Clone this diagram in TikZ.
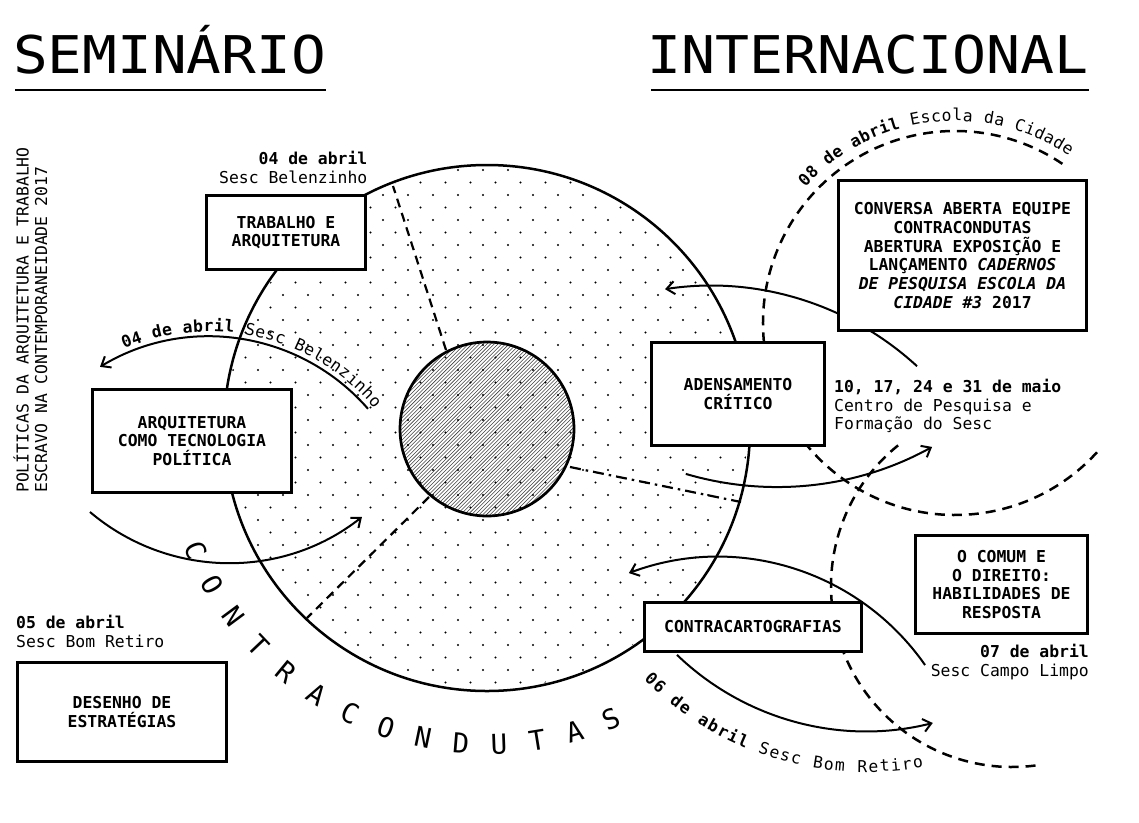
\documentclass[tikz,border=0pt]{standalone}
\usepackage{fontspec}
\usepackage{graphicx}
\newfontfamily\dvm{DejaVu Sans Mono}
\usetikzlibrary{arrows.meta}
\begin{document}
\begin{tikzpicture}[x=1pt,y=1pt,
  box/.style={draw,line width=2.7pt,fill=white,inner sep=0pt,align=center,
    font=\dvm\bfseries\fontsize{16.4}{18.8}\selectfont},
  lbl/.style={inner sep=0pt,font=\dvm\fontsize{16.4}{19}\selectfont},
  lblb/.style={inner sep=0pt,font=\dvm\bfseries\fontsize{16.4}{19}\selectfont},
  arcch/.style={inner sep=0pt,anchor=base,font=\dvm\fontsize{16.4}{19}\selectfont},
  arcchb/.style={inner sep=0pt,anchor=base,font=\dvm\bfseries\fontsize{16.4}{19}\selectfont},
  bigch/.style={inner sep=0pt,anchor=base,font=\dvm\fontsize{27.5}{30}\selectfont},
  titlefont/.style={inner sep=0pt,anchor=base west,font=\dvm\fontsize{52}{52}\selectfont},
  arr/.style={line width=2pt,-{Straight Barb[length=8pt,width=13pt]}},
  dashc/.style={line width=2.5pt,dash pattern=on 10pt off 7pt},
  dashi/.style={line width=2.2pt,dash pattern=on 9pt off 6pt},
  dashdot/.style={line width=2.2pt,dash pattern=on 11pt off 5pt on 2.5pt off 5pt},
  uline/.style={line width=2.8pt}
]
\fill[white] (0,0) rectangle (1139,-822);
\useasboundingbox (0,0) rectangle (1139,-822);

% ---------- hatched inner circle ----------
\begin{scope}
  \clip (487,-429) circle[radius=87];
  \foreach \k in {-36,...,36}
    \draw[line width=0.55pt,black!75] ({487+3.7*\k-110},-539) -- ++(220,220);
\end{scope}

% ---------- dotted big circle ----------
\begin{scope}
  \clip (487,-428) circle[radius=261];
  \foreach \k in {0,...,43}
    \foreach \m in {0,...,23}
      \fill ({195.5+12.5*mod(\k,2)+25*\m},{-157.5-12.5*\k}) circle[radius=1.1];
\end{scope}

\draw[line width=2.7pt] (487,-429) circle[radius=87];
\draw[line width=2.5pt] (487,-428) circle[radius=263];

% ---------- dashed radial lines ----------
\coordinate (r1a) at (446,-350); \coordinate (r1b) at (393,-186);
\coordinate (r2a) at (429,-497); \coordinate (r2b) at (307,-618);
\coordinate (r3a) at (570,-467); \coordinate (r3b) at (741,-502);
\draw[dashi] (r1a) -- (r1b);
\draw[dashi] (r2a) -- (r2b);
\draw[dashdot] (r3a) -- (r3b);

% ---------- dashed circles ----------
\draw[dashc] (955,-323) ++(56:192) arc[start angle=56,end angle=318,radius=192];
\draw[dashc] (1012,-586) ++(129:181) arc[start angle=129,end angle=279,radius=181];

% ---------- arrows ----------
\draw[arr] (209,-547.5) ++(41.1:211) arc[start angle=41.1,end angle=121.1,radius=211];
\draw[arr] (229,-348) ++(229.7:215) arc[start angle=229.7,end angle=308.2,radius=215];
\draw[arr] (710.6,-590.7) ++(47.4:305) arc[start angle=47.4,end angle=98.6,radius=305];
\draw[arr] (776.6,-165.3) ++(253.6:321.7) arc[start angle=253.6,end angle=298.9,radius=321.7];
\draw[arr] (717.8,-809.6) ++(34.9:252.7) arc[start angle=34.9,end angle=110.6,radius=252.7];
\draw[arr] (866.3,-458.2) ++(226.1:273) arc[start angle=226.1,end angle=284.1,radius=273];

% ---------- texts along arcs ----------
% 04 de abril Sesc Belenzinho
\foreach \c [count=\i from 0] in {0,4,{},d,e,{},a,b,r,i,l}
  \node[arcchb,rotate={111.8-2.71*\i-90}] at ([shift={(209,-547.5)}]{111.8-2.71*\i}:216) {\c};
\foreach \c [count=\i from 12] in {S,e,s,c,{},B,e,l,e,n,z,i,n,h,o}
  \node[arcch,rotate={111.8-2.71*\i-90}] at ([shift={(209,-547.5)}]{111.8-2.71*\i}:216) {\c};
% 08 de abril Escola da Cidade
\foreach \c [count=\i from 0] in {0,8,{},d,e,{},a,b,r,i,l}
  \node[arcchb,rotate={136.4-2.94*\i-90}] at ([shift={(955,-323)}]{136.4-2.94*\i}:202) {\c};
\foreach \c [count=\i from 12] in {E,s,c,o,l,a,{},d,a,{},C,i,d,a,d,e}
  \node[arcch,rotate={136.4-2.94*\i-90}] at ([shift={(955,-323)}]{136.4-2.94*\i}:202) {\c};
% 06 de abril Sesc Bom Retiro
\foreach \c [count=\i from 0] in {0,6,{},d,e,{},a,b,r,i,l}
  \node[arcchb,rotate={225.8+2.07*\i+90}] at ([shift={(866.3,-458.2)}]{225.8+2.07*\i}:314) {\c};
\foreach \c [count=\i from 12] in {S,e,s,c,{},B,o,m,{},R,e,t,i,r,o}
  \node[arcch,rotate={225.8+2.07*\i+90}] at ([shift={(866.3,-458.2)}]{225.8+2.07*\i}:314) {\c};
% CONTRACONDUTAS
\foreach \c [count=\i from 0] in {C,O,N,T,R,A,C,O,N,D,U,T,A,S}
  \node[bigch,rotate={202.7+6.95*\i+90}] at ([shift={(487,-428)}]{202.7+6.95*\i}:326) {\c};

% ---------- boxes ----------
\node[box,minimum width=159pt,minimum height=74pt] (b1) at (286,-232.5) {TRABALHO E\\ARQUITETURA};
\node[box,minimum width=199pt,minimum height=103pt] (b2) at (192,-441) {ARQUITETURA\\COMO TECNOLOGIA\\POLÍTICA};
\node[box,minimum width=209pt,minimum height=99pt] (b3) at (122,-712) {DESENHO DE\\ESTRATÉGIAS};
\node[box,minimum width=173pt,minimum height=103pt] (b4) at (738,-394) {ADENSAMENTO\\CRÍTICO};
\node[box,minimum width=248pt,minimum height=150pt] (b5) at (962.5,-255.5)
  {CONVERSA ABERTA EQUIPE\\CONTRACONDUTAS\\ABERTURA EXPOSIÇÃO E\\LANÇAMENTO \textit{CADERNOS}\\\textit{DE PESQUISA ESCOLA DA}\\\textit{CIDADE \#3} 2017};
\node[box,minimum width=172pt,minimum height=98pt] (b6) at (1001.5,-584.5) {O COMUM E\\O DIREITO:\\HABILIDADES DE\\RESPOSTA};
\node[box,minimum width=217pt,minimum height=49pt] (b7) at (753,-627) {CONTRACARTOGRAFIAS};

% ---------- labels ----------
\node[lblb,anchor=base east] (l1a) at (367.5,-164) {04 de abril};
\node[lbl,anchor=base east] (l1b) at (367.5,-183) {Sesc Belenzinho};
\node[lblb,anchor=base west] (l2a) at (16,-628) {05 de abril};
\node[lbl,anchor=base west] (l2b) at (16,-647) {Sesc Bom Retiro};
\node[lblb,anchor=base west] (l3a) at (834,-392) {10, 17, 24 e 31 de maio};
\node[lbl,anchor=base west] (l3b) at (834,-411) {Centro de Pesquisa e};
\node[lbl,anchor=base west] (l3c) at (834,-429) {Formação do Sesc};
\node[lblb,anchor=base east] (l4a) at (1089,-657) {07 de abril};
\node[lbl,anchor=base east] (l4b) at (1089,-676) {Sesc Campo Limpo};

\node[lbl,rotate=90,anchor=base west] (v1) at (28.5,-493) {POLÍTICAS DA ARQUITETURA E TRABALHO};
\node[lbl,rotate=90,anchor=base west] (v2) at (47,-493) {ESCRAVO NA CONTEMPORANEIDADE 2017};

% ---------- titles ----------
\node[titlefont] (t1) at (13,-73) {\scalebox{1.11}[1]{SEMINÁRIO}};
\node[titlefont] (t2) at (647,-73) {\scalebox{1.085}[1]{INTERNACIONAL}};
\coordinate (u1a) at (15,-90); \coordinate (u1b) at (326,-90);
\coordinate (u2a) at (651,-90); \coordinate (u2b) at (1089,-90);
\draw[uline] (u1a) -- (u1b);
\draw[uline] (u2a) -- (u2b);
\end{tikzpicture}
\end{document}
